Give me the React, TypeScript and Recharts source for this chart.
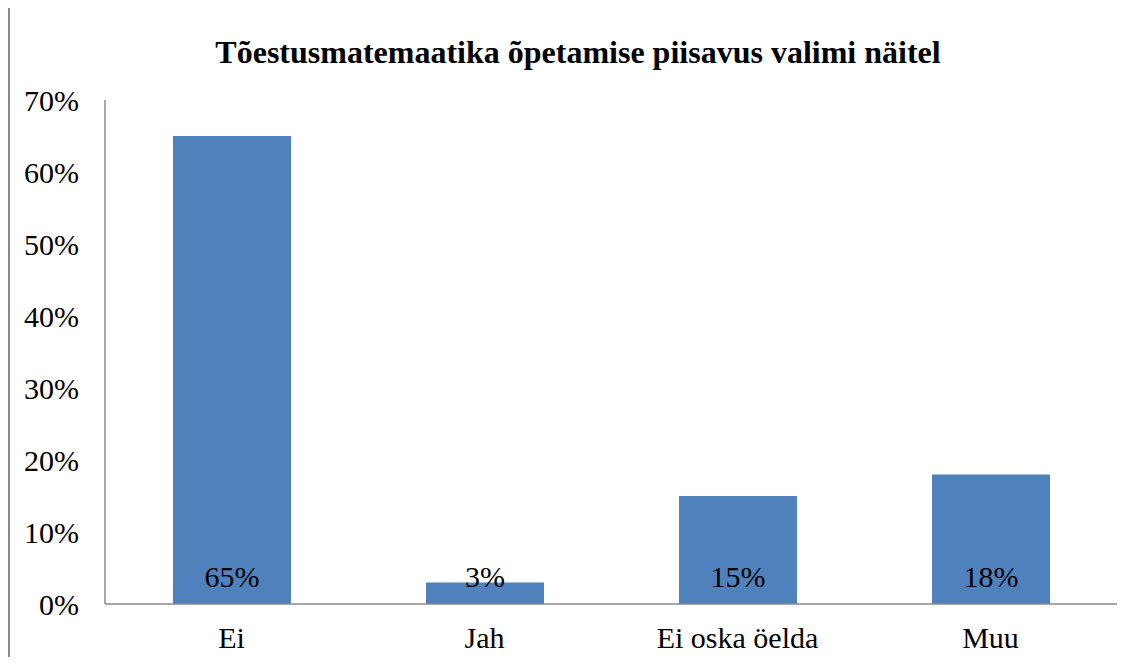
import { BarChart, Bar, XAxis, YAxis, LabelList } from "recharts";

const categories = ["Ei", "Jah", "Ei oska öelda", "Muu"];
const shares = [65, 3, 15, 18];
const yTicks = [0, 10, 20, 30, 40, 50, 60, 70];
const title = "Tõestusmatemaatika õpetamise piisavus valimi näitel";

const chartData = categories.map((name, i) => ({ name, value: shares[i] }));

const FONT = "Times New Roman";
const AXIS_COLOR = "#8a8a8a";

// value label sits at the foot of each bar, like the original
function BaseLabel(props: any) {
  const { x, y, width, height, value } = props;
  return (
    <text
      x={x + width / 2}
      y={y + height - 17}
      textAnchor="middle"
      fontFamily={FONT}
      fontSize={30}
      fill="#000"
    >
      {value}%
    </text>
  );
}

export default function App() {
  return (
    <div
      style={{
        marginTop: -3,
        borderTop: `2px solid ${AXIS_COLOR}`,
        borderLeft: `2px solid ${AXIS_COLOR}`,
        width: 1130,
        height: 650,
        fontFamily: FONT,
      }}
    >
      <BarChart
        width={1130}
        height={650}
        data={chartData}
        margin={{ top: 93, right: 23, bottom: 0, left: 0 }}
      >
        <text x={568} y={56} textAnchor="middle" fontFamily={FONT} fontWeight="bold" fontSize={32} fill="#000">
          {title}
        </text>
        <XAxis
          dataKey="name"
          height={53}
          tickLine={false}
          tickSize={0}
          tickMargin={23}
          axisLine={{ stroke: AXIS_COLOR, strokeWidth: 1.5 }}
          tick={{ fontFamily: FONT, fontSize: 30, fill: "#000" }}
          interval={0}
        />
        <YAxis
          width={95}
          domain={[0, 70]}
          ticks={yTicks}
          interval={0}
          tickLine={false}
          tickSize={0}
          tickMargin={26}
          axisLine={{ stroke: AXIS_COLOR, strokeWidth: 1.5 }}
          tickFormatter={(v: number) => `${v}%`}
          tick={{ fontFamily: FONT, fontSize: 30, fill: "#000" }}
        />
        <Bar dataKey="value" fill="#4F81BD" barSize={118} isAnimationActive={false}>
          <LabelList dataKey="value" content={BaseLabel} />
        </Bar>
      </BarChart>
    </div>
  );
}
